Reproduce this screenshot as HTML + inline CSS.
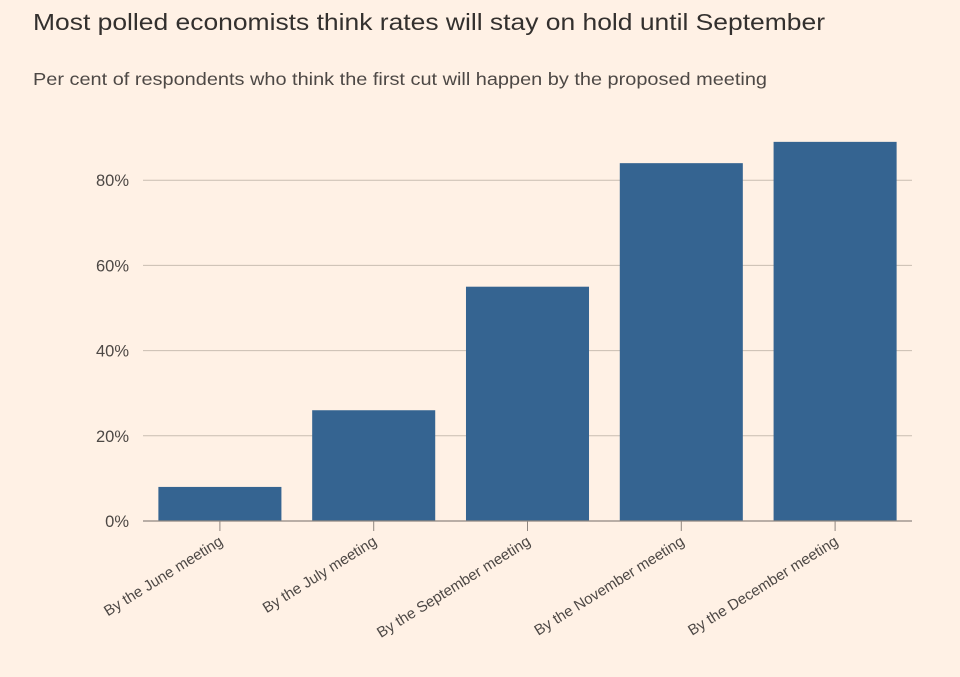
<!DOCTYPE html>
<html><head><meta charset="utf-8"><style>
html,body{margin:0;padding:0;background:#fff1e5;}
body{width:960px;height:672px;overflow:hidden;font-family:"Liberation Sans",sans-serif;}
</style></head><body>
<svg id="chart" width="960" height="672" xmlns="http://www.w3.org/2000/svg">
<rect width="960" height="672" fill="#fff1e5"/>
<text x="33" y="30" font-size="23" fill="#33302e" textLength="792" lengthAdjust="spacingAndGlyphs">Most polled economists think rates will stay on hold until September</text>
<text x="33" y="85" font-size="17.5" fill="#4d4845" textLength="734" lengthAdjust="spacingAndGlyphs">Per cent of respondents who think the first cut will happen by the proposed meeting</text>
<g id="grid"></g><g id="bars"></g><g id="axis"></g>
</svg>
<script>
const categories=["By the June meeting","By the July meeting","By the September meeting","By the November meeting","By the December meeting"];
const values=[8,26,55,84,89];
const tickValues=[0,20,40,60,80];
const tickLabels=["0%","20%","40%","60%","80%"];
const NS="http://www.w3.org/2000/svg";
const x0=143,x1=912,y0=521,yTop=95;
const y=v=>y0-(y0-yTop)*v/100;
const band=(x1-x0)/categories.length;
const bw=band*0.8;
const xb=i=>x0+band*i+(band-bw)/2;
function mk(t,a,p){const e=document.createElementNS(NS,t);for(const k in a)e.setAttribute(k,a[k]);p.appendChild(e);return e;}
const grid=document.getElementById('grid'),bars=document.getElementById('bars'),axis=document.getElementById('axis');
tickValues.forEach((v,i)=>{
 if(v>0){const l=mk('line',{x1:x0,x2:x1,y1:y(v),y2:y(v),stroke:'#c9bdb2','stroke-width':1},grid);
 
 }
 const t=mk('text',{x:129,y:y(v)+6,'text-anchor':'end','font-size':16.5,fill:'#4d4845'},axis);
 t.textContent=tickLabels[i];
 
 
});
values.forEach((v,i)=>{
 const r=mk('rect',{x:xb(i),y:y(v),width:bw,height:y0-y(v),fill:'#356491'},bars);
 
 
 const cx=xb(i)+bw/2;
 const tk=mk('line',{x1:cx,x2:cx,y1:y0,y2:y0+10,stroke:'#8f8680','stroke-width':1},axis);
 
 
 const t=mk('text',{x:cx+4,y:y0+23,'text-anchor':'end','font-size':15,fill:'#4d4845',transform:`rotate(-32 ${cx+4} ${y0+23})`},axis);
 t.textContent=categories[i];
 
 
});
const ax=mk('line',{x1:x0,x2:x1,y1:y0,y2:y0,stroke:'#8f8680','stroke-width':1.3},axis);


</script>
</body></html>
